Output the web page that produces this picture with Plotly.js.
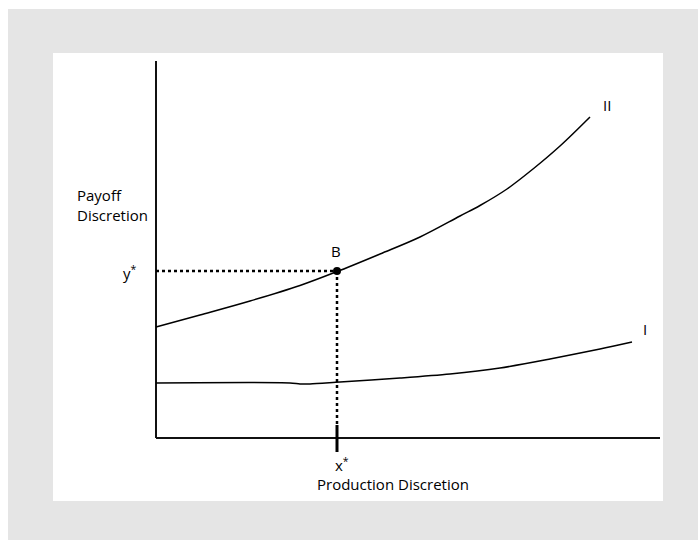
<!DOCTYPE html>
<html>
<head>
<meta charset="utf-8">
<script src="https://cdn.plot.ly/plotly-3.0.1.min.js"></script>
<style>
html,body{margin:0;padding:0;background:#ffffff;}
#chart{position:absolute;left:8px;top:9px;width:690px;height:531px;}
</style>
</head>
<body>
<div id="chart"></div>
<script>
// Curve II (upper)
var curveIIx = [0, 0.44, 0.94, 1.44, 1.80, 2.24, 2.64, 3.04, 3.24, 3.51, 3.77, 4.04, 4.34];
var curveIIy = [1.11, 1.23, 1.37, 1.525, 1.66, 1.84, 2.01, 2.22, 2.325, 2.49, 2.69, 2.92, 3.21];
// Curve I (lower)
var curveIx = [0, 1.34, 1.44, 1.54, 1.84, 2.44, 2.94, 3.44, 3.94, 4.44, 4.76];
var curveIy = [0.55, 0.55, 0.54, 0.54, 0.56, 0.60, 0.64, 0.70, 0.79, 0.89, 0.96];
// Point B
var xStar = 1.81;
var yStar = 1.67;
// Axis extents
var xAxisEnd = 5.04;
var yAxisEnd = 3.77;

var black = '#000000';
var fontFam = '"Open Sans", "Noto Sans", sans-serif';

var traces = [
  {x:[0,0], y:[0,yAxisEnd], mode:'lines', line:{color:'#111111',width:2}, hoverinfo:'skip'},
  {x:[0,xAxisEnd], y:[0,0], mode:'lines', line:{color:'#111111',width:2}, hoverinfo:'skip'},
  {x:curveIIx, y:curveIIy, mode:'lines', line:{color:black,width:1.5,shape:'spline',smoothing:1}, hoverinfo:'skip'},
  {x:curveIx, y:curveIy, mode:'lines', line:{color:black,width:1.5,shape:'spline',smoothing:0.8}, hoverinfo:'skip'},
  {x:[0,xStar], y:[yStar,yStar], mode:'lines', line:{color:black,width:2.5,dash:'dot'}, hoverinfo:'skip'},
  {x:[xStar,xStar], y:[yStar,0.13], mode:'lines', line:{color:black,width:2.5,dash:'dot'}, hoverinfo:'skip'},
  {x:[xStar,xStar], y:[0.13,-0.14], mode:'lines', line:{color:black,width:3}, hoverinfo:'skip'},
  {x:[xStar], y:[yStar], mode:'markers', marker:{color:black,size:8}, hoverinfo:'skip'}
];

var ax = {showgrid:false, zeroline:false, showline:false, showticklabels:false, ticks:'', fixedrange:true};
function f(){ return {family:fontFam, size:15, color:'#000000'}; }

var layout = {
  width:690, height:531,
  margin:{l:45, r:35, t:44, b:39, pad:0},
  paper_bgcolor:'#e5e5e5',
  plot_bgcolor:'#ffffff',
  showlegend:false,
  xaxis:Object.assign({}, ax, {range:[-1.03, 5.07]}),
  yaxis:Object.assign({}, ax, {range:[-0.63, 3.85]}),
  annotations:[
    {x:-0.81, y:2.33, text:'Payoff<br>Discretion', showarrow:false, xanchor:'left', align:'left', font:f()},
    {x:-0.26, y:1.66, text:'y<sup>*</sup>', showarrow:false, font:f()},
    {x:1.80, y:1.87, text:'B', showarrow:false, font:f()},
    {x:1.86, y:-0.26, text:'x<sup>*</sup>', showarrow:false, font:f()},
    {x:2.37, y:-0.46, text:'Production Discretion', showarrow:false, font:f()},
    {x:4.51, y:3.33, text:'II', showarrow:false, font:f()},
    {x:4.89, y:1.09, text:'I', showarrow:false, font:f()}
  ]
};

Plotly.newPlot('chart', traces, layout, {displayModeBar:false, staticPlot:true});
</script>
</body>
</html>
